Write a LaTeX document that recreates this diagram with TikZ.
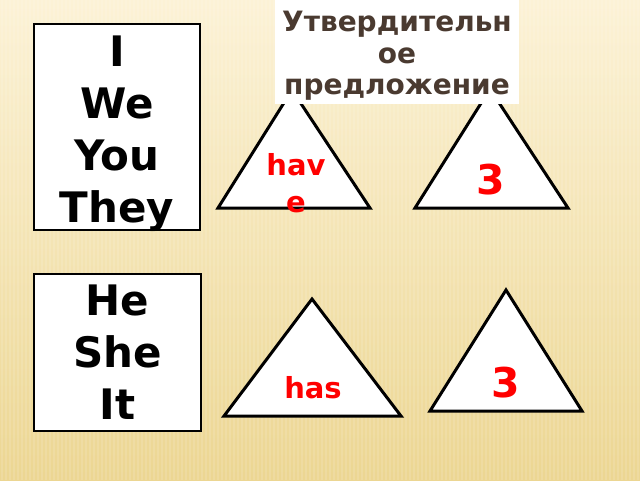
\documentclass[tikz,border=0pt]{standalone}
\usepackage{fontspec}
\setmainfont{DejaVu Sans}
\usepackage{tikz}
\definecolor{titlebrown}{RGB}{74,58,48}
\definecolor{bgtop}{RGB}{252,242,214}
\definecolor{bgmid}{RGB}{245,229,178}
\definecolor{bgbot}{RGB}{236,214,146}
\tikzset{
  pbox/.style={draw=black, line width=2.5pt, fill=white, inner sep=0pt},
  pron/.style={font=\bfseries\fontsize{42}{52}\selectfont, align=center, inner sep=0pt},
  tri/.style={draw=black, line width=3pt, fill=white, line join=miter},
  verb/.style={text=red, font=\bfseries\fontsize{29}{37}\selectfont, align=center, inner sep=0pt},
  digit/.style={text=red, font=\bfseries\fontsize{41}{48}\selectfont, inner sep=0pt}
}

\begin{document}
\begin{tikzpicture}[x=1pt, y=-1pt]
  \useasboundingbox (0,0) rectangle (640,480);
  % background
  \shade[top color=bgtop, middle color=bgmid, bottom color=bgbot] (0,0) rectangle (640,480);
  \foreach \x in {2,6,...,640}
    \draw[white, opacity=0.12, line width=1.2pt] (\x,0) -- (\x,480);

  % plural pronouns
  \node[pbox, minimum width=166pt, minimum height=206pt] (plural) at (117,127) {};
  \node[pron] (pluraltxt) at ([yshift=-7pt]plural.center) {I\\We\\You\\They};

  % singular pronouns
  \node[pbox, minimum width=167pt, minimum height=157pt] (single) at (117.5,352.5) {};
  \node[pron] (singletxt) at (single.center) {He\\She\\It};

  % top triangles
  \draw[tri] (292,90) -- (370,208) -- (218,208) -- cycle;
  \draw[tri] (490,89) -- (568,208) -- (415,208) -- cycle;
  \node[verb] (have) at (296,183) {hav\\e};
  \node[digit] (numA) at (491,180) {3};

  % title
  \node[fill=white, minimum width=244pt, minimum height=104pt, inner sep=0pt] (title) at (397,52) {};
  \node[text=titlebrown, font=\bfseries\fontsize{28}{31.5}\selectfont, align=center, inner sep=0pt] (titletxt)
    at ([yshift=-4pt]title.center) {Утвердительн\\ое\\предложение};

  % bottom triangles
  \draw[tri] (312,299) -- (401,416) -- (224,416) -- cycle;
  \draw[tri] (506,290) -- (582,411) -- (430,411) -- cycle;
  \node[verb] (has) at (313,388) {has};
  \node[digit] (numB) at (506,383) {3};
\end{tikzpicture}
\end{document}
